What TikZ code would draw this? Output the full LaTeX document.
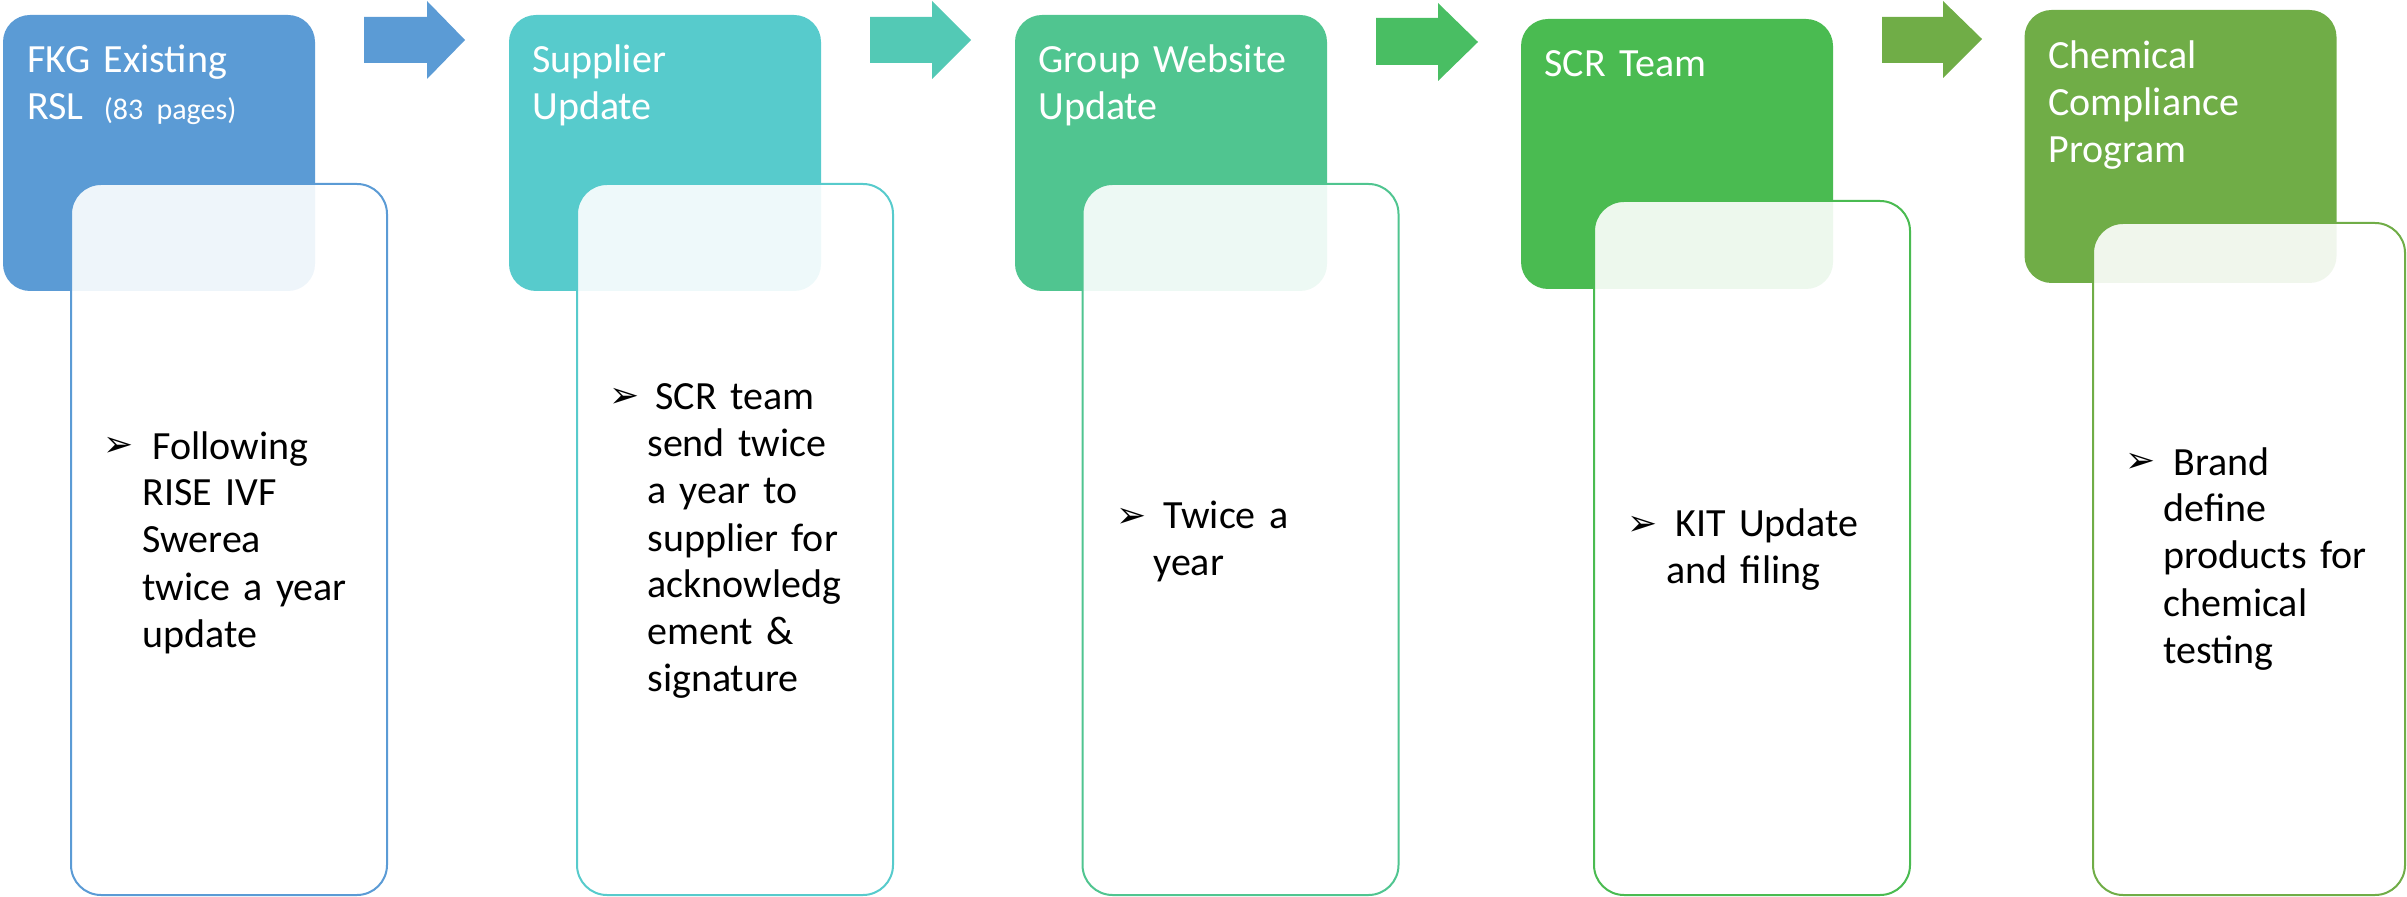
\documentclass[tikz,border=0pt]{standalone}
\usepackage{fontspec}
\setmainfont{Carlito}
\newfontfamily\symfont{DejaVu Sans}
\definecolor{hA}{HTML}{5B9BD5}
\definecolor{hB}{HTML}{57CBCC}
\definecolor{hC}{HTML}{50C590}
\definecolor{hD}{HTML}{4ABB51}
\definecolor{hE}{HTML}{70AD47}
\definecolor{aB}{HTML}{53C9B5}
\definecolor{aC}{HTML}{49BE63}
\begin{document}
\begin{tikzpicture}[x=0.5pt,y=-0.5pt,
  headbox/.style={rounded corners=13.5pt, inner sep=0pt, minimum width=156pt, minimum height=138pt},
  outbox/.style={draw, line width=1pt, fill=white, fill opacity=0.9, rounded corners=15pt, inner sep=0pt, minimum width=158pt},
  htext/.style={anchor=base west, inner sep=0pt, text=white, text width=150pt, align=left, font=\fontsize{20}{23.5}\selectfont},
  btext/.style={anchor=base west, inner sep=0pt, text=black, text width=125pt, align=left, font=\fontsize{20}{23.5}\selectfont},
  bul/.style={anchor=base west, inner sep=0pt, text=black, font=\symfont\fontsize{18}{18}\selectfont}]
\useasboundingbox (0,0) rectangle (2407,897);
% header boxes
\node[headbox, fill=hA] (h1) at (159,153) {};
\node[headbox, fill=hB] (h2) at (665,153) {};
\node[headbox, fill=hC] (h3) at (1171,153) {};
\node[headbox, fill=hD, minimum height=135pt] (h4) at (1677,154) {};
\node[headbox, fill=hE, minimum height=136.5pt] (h5) at (2180.5,146.5) {};
% outline boxes
\node[outbox, draw=hA, minimum height=355.5pt] (o1) at (229,539.5) {};
\node[outbox, draw=hB, minimum height=355.5pt] (o2) at (735,539.5) {};
\node[outbox, draw=hC, minimum height=355.5pt] (o3) at (1240.5,539.5) {};
\node[outbox, draw=hD, minimum height=347pt] (o4) at (1752,548) {};
\node[outbox, draw=hE, minimum height=336pt, minimum width=156pt] (o5) at (2249,559) {};
% arrows
\fill[hA] (364,17) -- (427,17) -- (427,1) -- (465,40) -- (427,79) -- (427,63) -- (364,63) -- cycle;
\fill[aB] (870,17) -- (932,17) -- (932,1) -- (971,40) -- (932,79) -- (932,63) -- (870,63) -- cycle;
\fill[aC] (1376,18) -- (1438,18) -- (1438,3) -- (1478,42) -- (1438,81) -- (1438,65) -- (1376,65) -- cycle;
\fill[hE] (1882,17) -- (1943,17) -- (1943,1) -- (1982,39) -- (1943,78) -- (1943,63) -- (1882,63) -- cycle;
% header texts
\node[htext] (t1) at (27,73) {FKG Existing\\RSL\hspace{10pt}{\fontsize{15}{18}\selectfont(83 pages)}};
\node[htext] (t2) at (532,73) {Supplier\\Update};
\node[htext] (t3) at (1038,73) {Group Website\\Update};
\node[htext] (t4) at (1544,77) {SCR Team};
\node[htext] (t5) at (2048,69) {Chemical\\Compliance\\Program};
% bullets
\node[bul] (b1) at (103,457) {➢};
\node[bul] (b2) at (609,408) {➢};
\node[bul] (b3) at (1116,527) {➢};
\node[bul] (b4) at (1627,535) {➢};
\node[bul] (b5) at (2125,473) {➢};
% body texts
\node[btext] (x1) at (142,459) {\hspace*{5pt}Following\\RISE IVF\\Swerea\\twice a year\\update};
\node[btext] (x2) at (647,410) {\hspace*{4pt}SCR team\\send twice\\a year to\\supplier for\\acknowledg\\ement \&\\signature};
\node[btext] (x3) at (1153,529) {\hspace*{5pt}Twice a\\year};
\node[btext] (x4) at (1666,537) {\hspace*{4.5pt}KIT Update\\and filing};
\node[btext] (x5) at (2163,475) {\hspace*{5pt}Brand\\define\\products for\\chemical\\testing};
\end{tikzpicture}
\end{document}
